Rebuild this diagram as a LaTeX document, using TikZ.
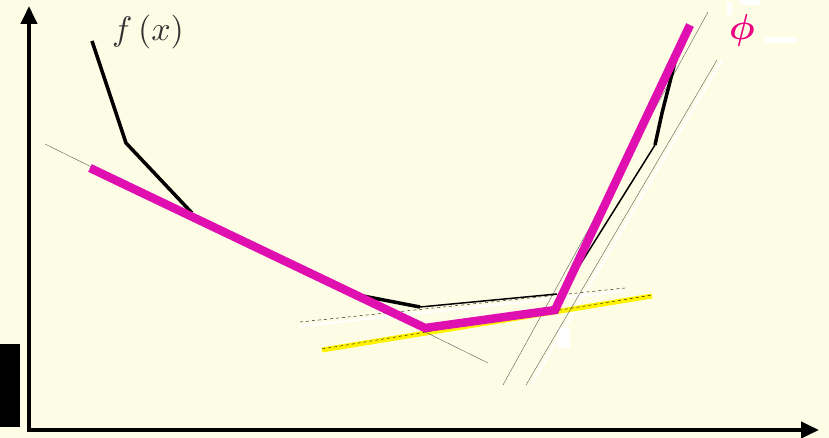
\documentclass[tikz,border=0pt]{standalone}
\usepackage{amsmath}
\usetikzlibrary{arrows.meta}
\definecolor{paper}{HTML}{FDFDE6}
\definecolor{phicol}{HTML}{E010B0}
\begin{document}
\begin{tikzpicture}[x=1pt,y=-1pt]
\fill[paper] (0,0) rectangle (829,438);
\fill[black] (0,344) rectangle (20,427);
\fill[white] (727,2) rectangle (732,15); \fill[white] (740,0) rectangle (760,5); \fill[white] (765,37) rectangle (797,43); \fill[white] (558,328) rectangle (570,348);
\draw[line width=4pt,-{Triangle[length=18pt,width=16pt]}] (29,430) -- (29,6);
\draw[line width=4pt,-{Triangle[length=18pt,width=16pt]}] (27,430) -- (819,430);
\draw[white,line width=2pt] (300,326) -- (625,291); \draw[white,line width=2pt] (531,385) -- (722,60);
\draw[yellow,line width=5pt] (322,350) -- (652,296); \draw[dashed,thin] (322,349) -- (652,295);
\draw[gray!70!black,thin] (45,144) -- (488,363);
\draw[black,thin,dashed] (300,322) -- (625,288);
\draw[gray!70!black,thin] (503,385) -- (708,12); \draw[gray!70!black,thin] (526,385) -- (717,60);
\draw[line width=3.5pt,line join=round] (92,41) -- (126,143) -- (192,213); \draw[line width=3.5pt] (363,296) -- (420,307); \draw[line width=1.5pt] (420,307) -- (557,294);
\draw[line width=3.5pt,line join=round] (683,40) -- (675,62) -- (662,113) -- (655,145); \draw[line width=1.5pt] (655,145) -- (558,300);
\draw[phicol,line width=8.5pt,line join=miter] (90,168) -- (425,328) -- (555,310) -- (690,25);
\node[scale=3.4,text=black!80] (fx) at (148,32){$f\,(x)$};
\node[scale=3.6,text=magenta!90!red] (phi) at (742,31){$\boldsymbol{\phi}$};
\end{tikzpicture}
\end{document}
